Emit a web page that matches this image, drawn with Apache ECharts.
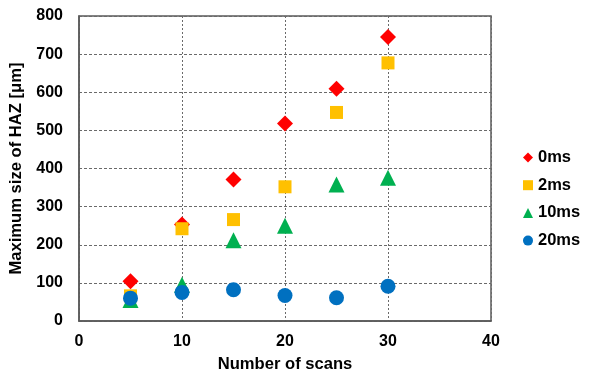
<!DOCTYPE html>
<html>
<head>
<meta charset="utf-8">
<script src="https://cdn.jsdelivr.net/npm/echarts@6/dist/echarts.min.js"></script>
<style>html,body{margin:0;padding:0;background:#fff;}#c{width:589px;height:378px;}</style>
</head>
<body>
<div id="c"></div>
<script>
var scans = [5, 10, 15, 20, 25, 30];
var s0ms = [104, 253, 371, 518, 609, 745];
var s2ms = [66, 242, 266, 352, 547, 677];
var s10ms = [55, 95, 212, 250, 358, 376];
var s20ms = [60, 75, 82, 67, 61, 91];
var xTicks = [0, 10, 20, 30, 40];
var yTicks = [0, 100, 200, 300, 400, 500, 600, 700, 800];

function pairs(v){ return scans.map(function(x,i){ return [x, v[i]]; }); }
var font = 'Liberation Sans, Arial, sans-serif';
var chart = echarts.init(document.getElementById('c'), null, {renderer:'canvas'});
var lineCol = '#595959';
chart.setOption({
  animation: false,
  grid: {left: 79, top: 16, right: 98, bottom: 53, show: true, borderColor: lineCol, borderWidth: 1.5},
  legend: {
    orient: 'vertical', left: 523, top: 149, padding: 0,
    itemWidth: 10, itemHeight: 10, itemGap: 10.7,
    textStyle: {fontFamily: font, fontWeight: 'bold', fontSize: 16.5, color: '#000', lineHeight: 16},
    data: [
      {name: '0ms', icon: 'diamond'},
      {name: '2ms', icon: 'rect'},
      {name: '10ms', icon: 'triangle'},
      {name: '20ms', icon: 'circle'}
    ]
  },
  xAxis: {
    type: 'value', min: xTicks[0], max: xTicks[xTicks.length-1], interval: 10,
    name: 'Number of scans', nameLocation: 'middle', nameGap: 35,
    nameTextStyle: {fontFamily: font, fontWeight: 'bold', fontSize: 16.6, color: '#000'},
    axisLine: {show: true, lineStyle: {color: lineCol, width: 1.5}},
    axisTick: {show: false},
    axisLabel: {fontFamily: font, fontWeight: 'bold', fontSize: 16, color: '#000', margin: 13},
    splitLine: {show: true, lineStyle: {color: '#6a6a6a', type: [2, 2], width: 1}}
  },
  yAxis: {
    type: 'value', min: yTicks[0], max: yTicks[yTicks.length-1], interval: 100,
    name: 'Maximum size of HAZ [μm]', nameLocation: 'middle', nameGap: 48,
    nameTextStyle: {fontFamily: font, fontWeight: 'bold', fontSize: 16.6, color: '#000'},
    axisLine: {show: true, lineStyle: {color: lineCol, width: 1.5}},
    axisTick: {show: false},
    axisLabel: {fontFamily: font, fontWeight: 'bold', fontSize: 16, color: '#000', margin: 16},
    splitLine: {show: true, lineStyle: {color: '#6a6a6a', type: [3, 2], width: 1}}
  },
  series: [
    {name: '0ms', type: 'scatter', symbol: 'diamond', symbolSize: 16, itemStyle: {color: '#FF0000', opacity: 1}, data: pairs(s0ms)},
    {name: '2ms', type: 'scatter', symbol: 'rect', symbolSize: 13, itemStyle: {color: '#FFC000', opacity: 1}, data: pairs(s2ms)},
    {name: '10ms', type: 'scatter', symbol: 'triangle', symbolSize: 16, itemStyle: {color: '#00B050', opacity: 1}, data: pairs(s10ms)},
    {name: '20ms', type: 'scatter', symbol: 'circle', symbolSize: 15, itemStyle: {color: '#0070C0', opacity: 1}, data: pairs(s20ms)}
  ]
});
</script>
</body>
</html>
